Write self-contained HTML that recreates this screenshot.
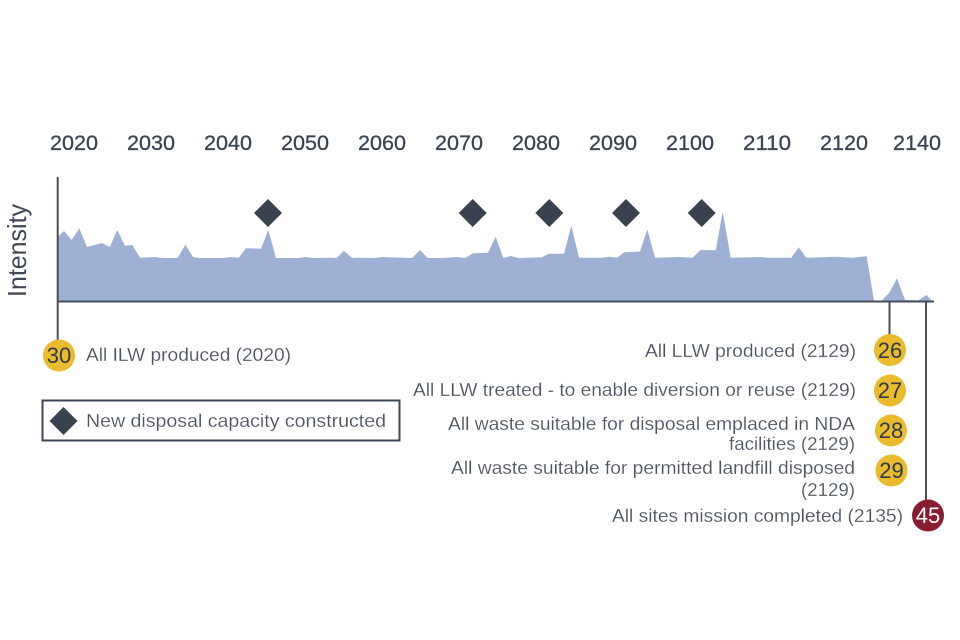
<!DOCTYPE html>
<html><head><meta charset="utf-8"><style>
html,body{margin:0;padding:0;background:#fff;width:960px;height:640px;overflow:hidden}
svg{display:block}
text{font-family:"Liberation Sans",sans-serif}
.y{font-size:21px;fill:#3a4450;stroke:#3a4450;stroke-width:.3}
.t{font-size:18px;fill:#4b5460;stroke:#fff;stroke-width:.15}
.n{font-size:22px;fill:#2f3a4a;text-anchor:middle}
</style></head><body>
<svg width="960" height="640" viewBox="0 0 960 640" xmlns="http://www.w3.org/2000/svg">
<rect width="960" height="640" fill="#fff"/>
<g class="y">
<text x="50" y="150" textLength="48" lengthAdjust="spacingAndGlyphs">2020</text>
<text x="127" y="150" textLength="48" lengthAdjust="spacingAndGlyphs">2030</text>
<text x="204" y="150" textLength="48" lengthAdjust="spacingAndGlyphs">2040</text>
<text x="281" y="150" textLength="48" lengthAdjust="spacingAndGlyphs">2050</text>
<text x="358" y="150" textLength="48" lengthAdjust="spacingAndGlyphs">2060</text>
<text x="435" y="150" textLength="48" lengthAdjust="spacingAndGlyphs">2070</text>
<text x="512" y="150" textLength="48" lengthAdjust="spacingAndGlyphs">2080</text>
<text x="589" y="150" textLength="48" lengthAdjust="spacingAndGlyphs">2090</text>
<text x="666" y="150" textLength="48" lengthAdjust="spacingAndGlyphs">2100</text>
<text x="743" y="150" textLength="48" lengthAdjust="spacingAndGlyphs">2110</text>
<text x="820" y="150" textLength="48" lengthAdjust="spacingAndGlyphs">2120</text>
<text x="893" y="150" textLength="48" lengthAdjust="spacingAndGlyphs">2140</text>
</g>
<text transform="translate(26,297) rotate(-90)" font-size="26" fill="#3f4854" textLength="93" lengthAdjust="spacingAndGlyphs">Intensity</text>
<polygon fill="#9eb1d5" points="58,301 58,236.7 64,231 71.7,240 79.3,228.3 87,247 102,243 109.7,247 117.3,230 125,245.7 132.3,245 140,257.7 155,257 162.7,258 177.7,258 185.3,244.7 193,257 200,258 223.3,258 230.7,257 238.7,257.7 246,248.3 261,248.7 268.3,230 276,258 298,258 306,257 313.3,258 328.3,257.7 336.7,258 344,250.7 352,258 360,257.7 373,258 381.7,257 412,258 420,250 427.7,258 443,258 456.7,257 465.3,258 473,253.3 488,252.7 495.7,236.7 503.3,258 511,256 518.7,258 541.7,257.3 549,253.7 564,253.7 571.3,225.7 579,257.7 601.7,257.7 609.3,256.7 617,257.7 624.3,252.3 640,251.5 647.3,229.3 655,257.7 680,257 692.7,257.7 700.3,250 715.7,250.3 722.7,211.7 730.7,257.7 760,257 768.3,257.7 791.3,257.7 798.7,247.3 806.3,257.7 836.7,256.7 851.7,257.7 866.7,256.3 874,300.7 881.7,300.7 889.3,292.7 897,278.3 905,300 918.3,300.3 926.7,295 931.7,300.7 931.7,301"/>
<g stroke="#47505c" fill="none">
<line x1="57.7" y1="177" x2="57.7" y2="345" stroke-width="2"/>
<line x1="57" y1="301.5" x2="934" y2="301.5" stroke-width="2"/>
<line x1="889.5" y1="301" x2="889.5" y2="338" stroke-width="2"/>
<line x1="926" y1="301" x2="926" y2="505" stroke-width="2"/>
</g>
<g fill="#39424e">
<polygon points="268,199 282,213 268,227 254,213"/>
<polygon points="472.7,199 486.7,213 472.7,227 458.7,213"/>
<polygon points="549.3,199 563.3,213 549.3,227 535.3,213"/>
<polygon points="626,199 640,213 626,227 612,213"/>
<polygon points="701.7,199 715.7,213 701.7,227 687.7,213"/>
</g>
<circle cx="59" cy="355.5" r="16" fill="#ebbb2e"/>
<text class="n" x="59" y="363">30</text>
<text class="t" x="86" y="361" textLength="205" lengthAdjust="spacingAndGlyphs">All ILW produced (2020)</text>
<rect x="42.500" y="400.500" width="357" height="40" fill="#fff" stroke="#3f4854" stroke-width="2"/>
<polygon points="63.5,407 77.5,421 63.5,435 49.5,421" fill="#39424e"/>
<text class="t" x="86" y="427" textLength="300" lengthAdjust="spacingAndGlyphs">New disposal capacity constructed</text>
<circle cx="890" cy="350" r="16" fill="#ebbb2e"/>
<text class="n" x="890" y="358">26</text>
<circle cx="890" cy="390.500" r="16" fill="#ebbb2e"/>
<text class="n" x="890" y="398">27</text>
<circle cx="891" cy="430.500" r="16" fill="#ebbb2e"/>
<text class="n" x="891" y="438">28</text>
<circle cx="891.500" cy="470.500" r="16" fill="#ebbb2e"/>
<text class="n" x="891.500" y="478">29</text>
<circle cx="928" cy="515.500" r="16" fill="#8a1c30"/>
<text class="n" x="928" y="523" style="fill:#fff">45</text>
<text class="t" x="645" y="357" textLength="211" lengthAdjust="spacingAndGlyphs">All LLW produced (2129)</text>
<text class="t" x="413" y="396" textLength="443" lengthAdjust="spacingAndGlyphs">All LLW treated - to enable diversion or reuse (2129)</text>
<text class="t" x="448" y="430" textLength="407" lengthAdjust="spacingAndGlyphs">All waste suitable for disposal emplaced in NDA</text>
<text class="t" x="729" y="450" textLength="126" lengthAdjust="spacingAndGlyphs">facilities (2129)</text>
<text class="t" x="451" y="474" textLength="404" lengthAdjust="spacingAndGlyphs">All waste suitable for permitted landfill disposed</text>
<text class="t" x="801" y="496" textLength="54" lengthAdjust="spacingAndGlyphs">(2129)</text>
<text class="t" x="612" y="522" textLength="291" lengthAdjust="spacingAndGlyphs">All sites mission completed (2135)</text>
</svg>
</body></html>
